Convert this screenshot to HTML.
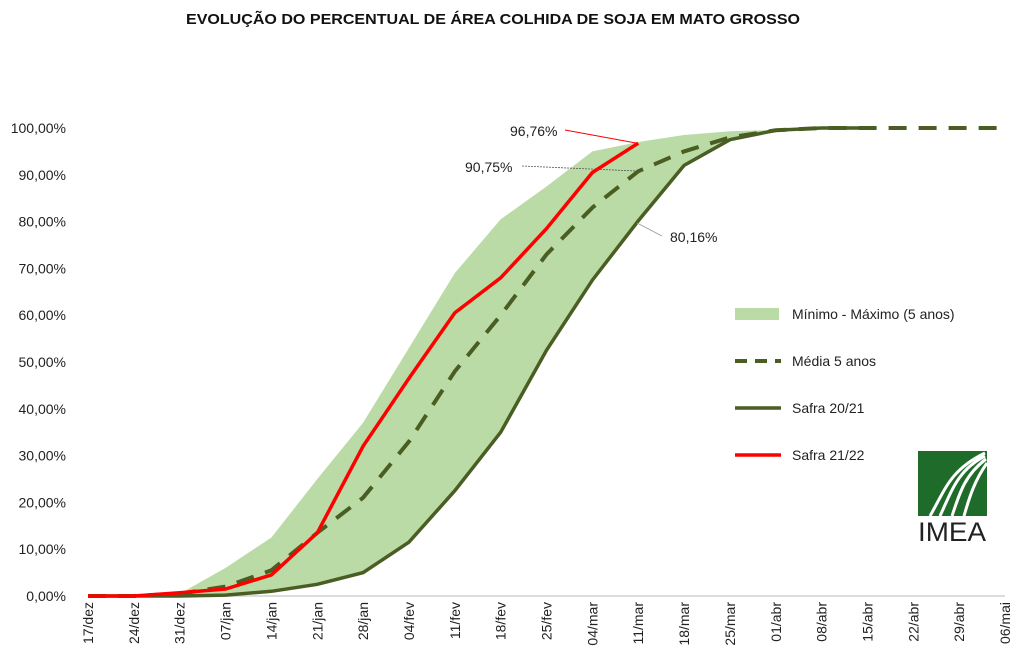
<!DOCTYPE html><html><head><meta charset="utf-8"><style>body{margin:0;background:#fff}svg{display:block;font-family:"Liberation Sans",sans-serif}</style></head><body>
<svg width="1024" height="666" viewBox="0 0 1024 666">
<text x="493" y="24" text-anchor="middle" font-size="15" font-weight="bold" fill="#111" textLength="614" lengthAdjust="spacingAndGlyphs">EVOLUÇÃO DO PERCENTUAL DE ÁREA COLHIDA DE SOJA EM MATO GROSSO</text>
<g font-size="14" fill="#222" text-anchor="end" id="yl"></g>
<line x1="88" y1="596" x2="1005" y2="596" stroke="#d0d0d0" stroke-width="1.5"/>
<polygon id="area" fill="#bbdba6"/>
<polyline id="med" fill="none" stroke="#4a5e23" stroke-width="4" stroke-dasharray="18,12"/>
<polyline id="s20" fill="none" stroke="#4a5e23" stroke-width="3.5"/>
<polyline id="s21" fill="none" stroke="#ff0000" stroke-width="3.5"/>
<g id="xl" font-size="14" fill="#222"></g>
<line x1="565" y1="130" x2="636" y2="143" stroke="#ff0000" stroke-width="1"/>
<text x="510" y="136" font-size="14" fill="#222">96,76%</text>
<line x1="522" y1="166" x2="636" y2="171" stroke="#555" stroke-width="0.8" stroke-dasharray="2,1"/>
<text x="465" y="172" font-size="14" fill="#222">90,75%</text>
<line x1="637" y1="223" x2="662" y2="236" stroke="#999" stroke-width="0.8"/>
<text x="670" y="242" font-size="14" fill="#222">80,16%</text>
<rect x="735" y="308" width="44" height="12" fill="#bbdba6"/>
<text x="792" y="319" font-size="14" fill="#222">Mínimo - Máximo (5 anos)</text>
<line x1="735" y1="361" x2="781" y2="361" stroke="#4a5e23" stroke-width="4" stroke-dasharray="12,8"/>
<text x="792" y="366" font-size="14" fill="#222">Média 5 anos</text>
<line x1="735" y1="408" x2="781" y2="408" stroke="#4a5e23" stroke-width="3.5"/>
<text x="792" y="413" font-size="14" fill="#222">Safra 20/21</text>
<line x1="735" y1="455" x2="781" y2="455" stroke="#ff0000" stroke-width="3.5"/>
<text x="792" y="460" font-size="14" fill="#222">Safra 21/22</text>
<rect x="918" y="451" width="69" height="65" fill="#1e6b2a"/>
<path d="M930 516 C945 490 950 470 985 453 M940 516 C952 490 958 470 985 456 M952 516 C960 492 965 475 986 459 M964 516 C970 495 975 480 987 463" stroke="#fff" stroke-width="3" fill="none"/>
<text x="952" y="541" text-anchor="middle" font-size="27" fill="#222" textLength="68" lengthAdjust="spacingAndGlyphs">IMEA</text>
</svg>
<script>
const X=i=>88+i*45.85,Y=v=>596-v*4.68;
const mx=[0,0,0.5,6,12.5,25,37,53,69,80.5,87.5,95,97,98.5,99.3,99.6,100,100];
const mn=[0,0,0,0.2,1,2.5,5,11.5,22.5,35,52.5,67.5,80.16,92,97.5,99.5,100,100];
const md=[0,0,0.5,2,5.5,13.5,21,33,48,60,73,83,90.75,95,98,99.5,100,100,100,100,100];
const r=[0,0,0.7,1.5,4.5,13.5,32,46.5,60.5,68,78.5,90.5,96.76];
const p=a=>a.map((v,i)=>X(i).toFixed(1)+','+Y(v).toFixed(1)).join(' ');
document.getElementById('area').setAttribute('points',p(mx)+' '+mn.map((v,i)=>[X(i),Y(v)]).reverse().map(q=>q.join(',')).join(' '));
document.getElementById('med').setAttribute('points',p(md));
document.getElementById('s20').setAttribute('points',p(mn));
document.getElementById('s21').setAttribute('points',p(r));
const ns='http://www.w3.org/2000/svg';
const yl=document.getElementById('yl');
for(let k=0;k<=10;k++){const t=document.createElementNS(ns,'text');t.setAttribute('x',66);t.setAttribute('y',Y(k*10)+5);t.textContent=(k*10)+',00%';yl.appendChild(t);}
const lb=['17/dez','24/dez','31/dez','07/jan','14/jan','21/jan','28/jan','04/fev','11/fev','18/fev','25/fev','04/mar','11/mar','18/mar','25/mar','01/abr','08/abr','15/abr','22/abr','29/abr','06/mai'];
const xl=document.getElementById('xl');
lb.forEach((s,i)=>{const t=document.createElementNS(ns,'text');t.setAttribute('transform',`translate(${X(i)+5},602) rotate(-90)`);t.setAttribute('text-anchor','end');t.textContent=s;xl.appendChild(t);});
</script>
</body></html>
